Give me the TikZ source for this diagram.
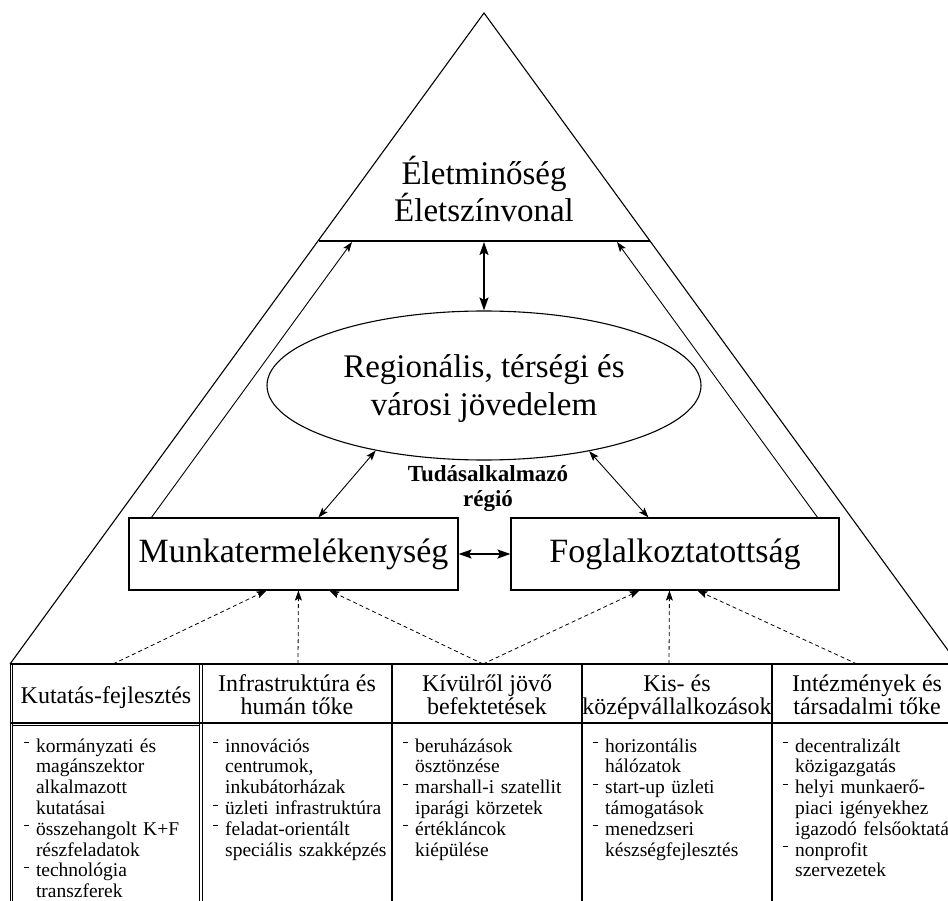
\documentclass[tikz,border=0pt]{standalone}
\usepackage{fontspec}
\setmainfont{Liberation Serif}
\usetikzlibrary{arrows.meta,shapes.geometric,calc}
\newcommand{\itm}[1]{\par\hangindent=15pt\hangafter=1\noindent\makebox[15pt][l]{\hspace{2.5pt}\rule[9pt]{5pt}{0.9pt}}#1}
\begin{document}
\begin{tikzpicture}[x=1pt,y=-1pt,
  every node/.style={inner sep=0pt},
  bigtxt/.style={font=\fontsize{33}{37.5}\selectfont, align=center, anchor=base},
  boxnode/.style={draw, line width=1.1pt, minimum height=72pt, font=\fontsize{34}{38}\selectfont},
  headtxt/.style={font=\fontsize{24}{23}\selectfont, align=center, anchor=base},
  bodytxt/.style={font=\fontsize{19.5}{20.8}\selectfont, anchor=north west, text width=182pt, align=left},
  tipS/.tip={Stealth[length=10pt,width=7pt,inset=2pt]},
  tipL/.tip={Stealth[length=13pt,width=9pt,inset=2.5pt]},
  thinarr/.style={line width=0.9pt, -{tipS}},
  thinboth/.style={line width=0.9pt, {tipS}-{tipS}},
  thickboth/.style={line width=1.7pt, {tipL}-{tipL}},
  dasharr/.style={line width=0.8pt, dash pattern=on 4pt off 3pt, -{tipS}},
  single/.style={line width=1.2pt},
  dbl/.style={line width=0.8pt}]
\useasboundingbox (0,0) rectangle (948,901);
\clip (0,0) rectangle (948,901);
% triangle
\coordinate (apex) at (484,13);
\coordinate (tl) at (10,664);
\coordinate (tr) at (958,664);
\draw[line width=1.1pt] (tl) -- (apex) -- (tr);
% quality line
\coordinate (lq1) at (318.5,241);
\coordinate (lq2) at (649.5,241);
\draw[line width=1.6pt] (lq1) -- (lq2);
\node[bigtxt] (quality) at (484,222) {Életminőség\\Életszínvonal};
% income ellipse
\node[ellipse, draw, line width=1.1pt, minimum width=434pt, minimum height=149pt] (income) at (484,385.5) {};
\node[bigtxt] (incometxt) at (484,415) {Regionális, térségi és\\városi jövedelem};
% boxes
\node[boxnode, minimum width=329pt] (munka) at (293.5,554) {Munkatermelékenység};
\node[boxnode, minimum width=328pt] (fogl) at (675,554) {Foglalkoztatottság};
\node[font=\bfseries\fontsize{23}{25}\selectfont, align=center, anchor=base] (tud) at (488,506) {Tudásalkalmazó\\régió};
% connectors in triangle
\coordinate (ql) at (352,242);
\coordinate (qr) at (617,242);
\coordinate (qm) at (484,242);
\draw[thinarr] ($(munka.north west)+(23,0)$) -- (ql);
\draw[thinarr] ($(fogl.north east)+(-22,0)$) -- (qr);
\draw[thickboth] (qm) -- (income.north);
\draw[thinboth] ($(munka.north west)+(190,0)$) -- (income.211.7);
\draw[thinboth] (income.328.3) -- ($(fogl.north west)+(138,0)$);
\draw[thickboth] (munka.east) -- (fogl.west);
% table
\draw[line width=1.6pt] (10,664) -- (962,664);
\draw[line width=1.2pt] (10,723) -- (962,723);
\draw[line width=0.6pt] (11.5,725) -- (200,725);
\draw[dbl] (10.3,664) -- (10.3,910);
\draw[dbl] (12.8,664) -- (12.8,910);
\draw[dbl] (199.5,664) -- (199.5,910);
\draw[dbl] (202.2,664) -- (202.2,910);
\draw[single] (392,664) -- (392,910);
\draw[single] (582,664) -- (582,910);
\draw[single] (772,664) -- (772,910);
% headers
\node[headtxt] (h1) at (106,703) {Kutatás-fejlesztés};
\node[headtxt] (h2) at (297,714) {Infrastruktúra és\\humán tőke};
\node[headtxt] (h3) at (487,714) {Kívülről jövő\\befektetések};
\node[headtxt] (h4) at (677,714) {Kis- és\\középvállalkozások};
\node[headtxt] (h5) at (867,714) {Intézmények és\\társadalmi tőke};
% sources of dashed arrows
\coordinate (s1) at (113,664);
\coordinate (s2) at (298,664);
\coordinate (s3) at (483,664);
\coordinate (s4) at (669,664);
\coordinate (s5) at (857,664);
\draw[dasharr] (s1) -- ($(munka.south west)+(138,0)$);
\draw[dasharr] (s2) -- ($(munka.south west)+(170,0)$);
\draw[dasharr] (s3) -- ($(munka.south west)+(201,0)$);
\draw[dasharr] (s3) -- ($(fogl.south west)+(129,0)$);
\draw[dasharr] (s4) -- ($(fogl.south west)+(159,0)$);
\draw[dasharr] (s5) -- ($(fogl.south west)+(187,0)$);
% bodies
\node[bodytxt] (b1) at (20.8,731) {\raggedright
\itm{kormányzati és\newline magánszektor\newline alkalmazott\newline kutatásai}
\itm{összehangolt K+F\newline részfeladatok}
\itm{technológia\newline transzferek}\par};
\node[bodytxt] (b2) at (210,731) {\raggedright
\itm{innovációs\newline centrumok,\newline inkubátorházak}
\itm{üzleti infrastruktúra}
\itm{feladat-orientált\newline speciális szakképzés}\par};
\node[bodytxt] (b3) at (400,731) {\raggedright
\itm{beruházások\newline ösztönzése}
\itm{marshall-i szatellit\newline iparági körzetek}
\itm{értékláncok\newline kiépülése}\par};
\node[bodytxt] (b4) at (590,731) {\raggedright
\itm{horizontális\newline hálózatok}
\itm{start-up üzleti\newline támogatások}
\itm{menedzseri\newline készségfejlesztés}\par};
\node[bodytxt, text width=260pt] (b5) at (780,731) {\raggedright
\itm{decentralizált\newline közigazgatás}
\itm{helyi munkaerő-\newline piaci igényekhez\newline igazodó felsőoktatás}
\itm{nonprofit\newline szervezetek}\par};
\end{tikzpicture}
\end{document}
